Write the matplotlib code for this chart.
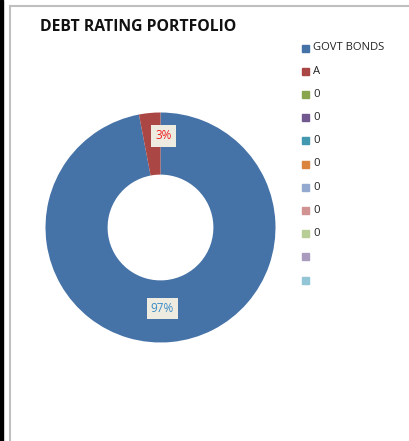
import matplotlib.pyplot as plt
import numpy as np
from matplotlib.patches import Rectangle

# Portfolio split by debt rating (percent)
ratings = ["GOVT BONDS", "A", "0", "0", "0", "0", "0", "0", "0", "", ""]
shares = [97, 3, 0, 0, 0, 0, 0, 0, 0, 0, 0]
colors = ["#4572A7", "#AA4643", "#89A54E", "#71588F", "#4198AF", "#DB843D",
          "#93A9CF", "#D19392", "#B9CD96", "#A99BBD", "#92C5D5"]
label_colors = ["#3A8BC8", "#F02020"]

plt.rcParams["font.family"] = ["Open Sans", "DejaVu Sans"]

W, H = 409, 441
fig = plt.figure(figsize=(W / 100, H / 100), dpi=100)
fig.patch.set_facecolor("white")

# Sheet edge and chart frame
frame = fig.add_axes([0, 0, 1, 1])
frame.set_xlim(0, W)
frame.set_ylim(H, 0)
frame.axis("off")
frame.add_patch(Rectangle((0, 0), 3, H, color="black"))
frame.plot([9.5, 9.5], [6, H], color="#BFBFBF", lw=1.5)
frame.plot([9.5, W], [6, 6], color="#BFBFBF", lw=1.5)
frame.text(40, 27, "DEBT RATING PORTFOLIO", fontsize=11.3, fontweight="bold",
           va="center", ha="left", color="#111111")

# Donut
cx, cy, r = 160.5, 227.5, 115
ax = fig.add_axes([(cx - r) / W, (H - cy - r) / H, 2 * r / W, 2 * r / H])
vals = [v for v in shares if v > 0]
wedges, _ = ax.pie(vals, colors=colors[:len(vals)], startangle=90,
                   counterclock=False, radius=1,
                   wedgeprops=dict(width=0.54, edgecolor="none"))
ax.set_xlim(-1, 1)
ax.set_ylim(-1, 1)

total = sum(vals)
for w, v, c in zip(wedges, vals, label_colors):
    mid = np.deg2rad((w.theta1 + w.theta2) / 2)
    small = v < 10
    rr = 0.80 if small else 0.71
    ax.text(rr * np.cos(mid) + (0.10 if small else -0.05), rr * np.sin(mid),
            f"{v / total * 100:.0f}%", ha="center", va="center",
            fontsize=8.5, color=c,
            bbox=dict(boxstyle="square,pad=0.35", fc="#EEECE1", ec="none"))

# Legend
for i, (name, col) in enumerate(zip(ratings, colors)):
    y = 48 + i * 23.2
    frame.add_patch(Rectangle((302, y - 3.5), 7, 7, color=col))
    frame.text(313, y, name, fontsize=8.1, va="center", ha="left",
               color="#222222")

fig.savefig("out.png", dpi=100)
